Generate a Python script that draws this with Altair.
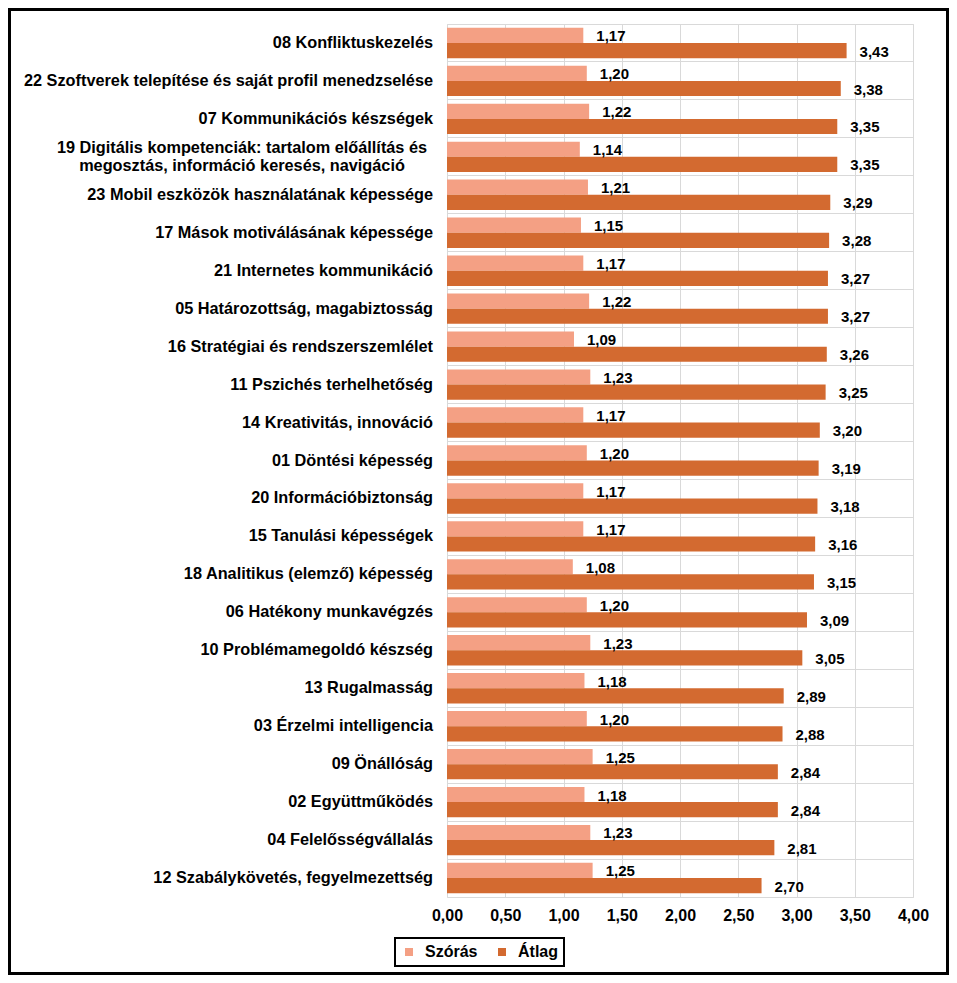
import altair as alt
import pandas as pd

categories = [
    "08 Konfliktuskezelés",
    "22 Szoftverek telepítése és saját profil menedzselése",
    "07 Kommunikációs készségek",
    "19 Digitális kompetenciák: tartalom előállítás és\nmegosztás, információ keresés, navigáció",
    "23 Mobil eszközök használatának képessége",
    "17 Mások motiválásának képessége",
    "21 Internetes kommunikáció",
    "05 Határozottság, magabiztosság",
    "16 Stratégiai és rendszerszemlélet",
    "11 Pszichés terhelhetőség",
    "14 Kreativitás, innováció",
    "01 Döntési képesség",
    "20 Információbiztonság",
    "15 Tanulási képességek",
    "18 Analitikus (elemző) képesség",
    "06 Hatékony munkavégzés",
    "10 Problémamegoldó készség",
    "13 Rugalmasság",
    "03 Érzelmi intelligencia",
    "09 Önállóság",
    "02 Együttműködés",
    "04 Felelősségvállalás",
    "12 Szabálykövetés, fegyelmezettség",
]
szoras = [1.17, 1.20, 1.22, 1.14, 1.21, 1.15, 1.17, 1.22, 1.09, 1.23, 1.17, 1.20,
          1.17, 1.17, 1.08, 1.20, 1.23, 1.18, 1.20, 1.25, 1.18, 1.23, 1.25]
atlag = [3.43, 3.38, 3.35, 3.35, 3.29, 3.28, 3.27, 3.27, 3.26, 3.25, 3.20, 3.19,
         3.18, 3.16, 3.15, 3.09, 3.05, 2.89, 2.88, 2.84, 2.84, 2.81, 2.70]
series_names = ["Szórás", "Átlag"]
series_colors = ["#F4A084", "#D36A30"]
x_ticks = [0, 0.5, 1.0, 1.5, 2.0, 2.5, 3.0, 3.5, 4.0]

rows = []
for c, s, a in zip(categories, szoras, atlag):
    rows.append({"cat": c, "series": series_names[0], "value": s})
    rows.append({"cat": c, "series": series_names[1], "value": a})
df = pd.DataFrame(rows)
lab_df = pd.DataFrame({"cat": categories, "multi": ["\n" in c for c in categories]})

FONT = "Liberation Sans"
CAT_FS = 16.3
W, H = 466, 873
PAD = {"left": 439, "top": 16, "right": 36, "bottom": 78}

y_enc = alt.Y(
    "cat:N", sort=categories, title=None,
    scale=alt.Scale(domain=categories, paddingInner=0, paddingOuter=0),
    axis=alt.Axis(labels=False, ticks=False, domain=False, grid=True,
                  bandPosition=0, gridColor="#D9D9D9", gridWidth=1),
)
yoff_enc = alt.YOffset("series:N", sort=series_names,
                       scale=alt.Scale(domain=series_names, paddingInner=0, paddingOuter=0.25))
x_enc = alt.X(
    "value:Q", title=None,
    scale=alt.Scale(domain=[0, 4], nice=False, zero=True),
    axis=alt.Axis(values=x_ticks, ticks=False, domain=False, grid=True,
                  gridColor="#D9D9D9", gridWidth=1,
                  labelExpr="replace(format(datum.value, '.2f'), '.', ',')",
                  labelFlush=False, labelOverlap=False,
                  labelFont=FONT, labelFontSize=16, labelFontWeight="bold",
                  labelColor="#000000", labelPadding=10),
)

base = alt.Chart(df)
bars = base.mark_bar().encode(
    x=x_enc, y=y_enc, yOffset=yoff_enc,
    color=alt.Color("series:N", sort=series_names,
                    scale=alt.Scale(domain=series_names, range=series_colors),
                    legend=alt.Legend(title=None, orient="none", legendX=-52, legendY=914,
                                      direction="horizontal", symbolType="square",
                                      symbolSize=64, symbolStrokeWidth=0,
                                      labelFont=FONT, labelFontSize=16, labelFontWeight="bold",
                                      labelColor="#000000", strokeColor="#000000",
                                      padding=6, columnPadding=16, labelOffset=8,
                                      fillColor="#FFFFFF")),
)
vals = base.transform_calculate(
    lbl="replace(format(datum.value, '.2f'), '.', ',')"
).mark_text(align="left", baseline="middle", dx=13, dy=1, font=FONT, fontSize=15,
            fontWeight="bold", color="#000000").encode(
    x=alt.X("value:Q"), y=alt.Y("cat:N", sort=categories), yOffset=alt.YOffset("series:N", sort=series_names),
    text="lbl:N",
)

lab_single = alt.Chart(lab_df).transform_filter("!datum.multi").mark_text(
    align="right", baseline="middle", font=FONT, fontSize=CAT_FS, fontWeight="bold", color="#000000"
).encode(y=alt.Y("cat:N", sort=categories), x=alt.value(-14), text="cat:N")

lab_multi = alt.Chart(lab_df).transform_filter("datum.multi").mark_text(
    align="center", baseline="middle", font=FONT, fontSize=CAT_FS, fontWeight="bold", color="#000000",
    lineBreak="\n", lineHeight=18, dy=-9
).encode(y=alt.Y("cat:N", sort=categories), x=alt.value(-205), text="cat:N")

border = alt.Chart(alt.Data(values=[{}])).mark_rect(
    filled=False, stroke="#000000", strokeWidth=3
).encode(x=alt.value(-PAD["left"] + 1.5), x2=alt.value(W + PAD["right"] - 1.5),
         y=alt.value(-PAD["top"] + 1.5), y2=alt.value(H + PAD["bottom"] - 1.5))

chart = alt.layer(bars, vals, lab_single, lab_multi, border).properties(
    width=W, height=H, padding=PAD,
    autosize=alt.AutoSizeParams(type="none"),
    background="#FFFFFF",
).configure_view(stroke="#D9D9D9", strokeWidth=1).configure_legend(
    strokeWidth=2
)

chart.save("out.html", embed_options={"renderer": "svg", "actions": False})
